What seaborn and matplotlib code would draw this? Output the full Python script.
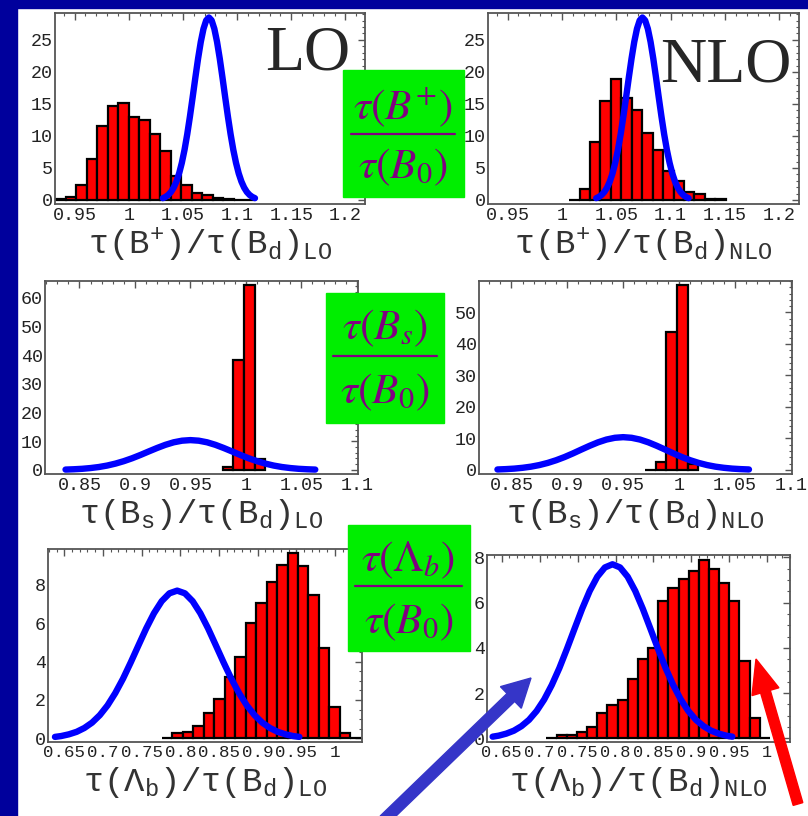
import numpy as np
import pandas as pd
import matplotlib
matplotlib.use("Agg")
import matplotlib.pyplot as plt
import matplotlib.transforms as mtransforms
from matplotlib.patches import Rectangle, FancyArrow
from matplotlib.lines import Line2D
from matplotlib.ticker import FixedLocator, MultipleLocator
import seaborn as sns

# ---------------- data ----------------
# tau(B+)/tau(Bd): histogram bins (left edge, width, heights)
bplus_lo_start = 0.932
bplus_lo_width = 0.0097
bplus_lo_heights = [0.2, 0.5, 2.3, 6.4, 11.5, 14.6, 15.1, 13.0, 12.5, 10.3,
                    7.6, 3.8, 2.3, 1.1, 0.7, 0.3, 0.1, 0.05, 0.02]
bplus_nlo_start = 1.0066
bplus_nlo_width = 0.0096
bplus_nlo_heights = [0.05, 1.7, 9.0, 15.4, 18.9, 16.0, 14.1, 10.5, 7.8, 4.5,
                     3.0, 1.3, 0.9, 0.1, 0.1]
# experimental curve (blue)
bplus_exp_x = [1.0315, 1.034, 1.0365, 1.039, 1.0415, 1.044, 1.0465, 1.049,
               1.0515, 1.054, 1.0565, 1.059, 1.0615, 1.064, 1.0665, 1.069,
               1.0715, 1.074, 1.0765, 1.079, 1.0815, 1.084, 1.0865, 1.089,
               1.0915, 1.094, 1.0965, 1.099, 1.1015, 1.104, 1.1065, 1.109,
               1.1115, 1.114, 1.1165]
bplus_exp_y = [0.28, 0.48, 0.79, 1.25, 1.93, 2.87, 4.14, 5.79, 7.83, 10.27,
               13.05, 16.05, 19.13, 22.08, 24.69, 26.74, 28.05, 28.5,
               28.05, 26.74, 24.69, 22.08, 19.13, 16.05, 13.05, 10.27, 7.83,
               5.79, 4.14, 2.87, 1.93, 1.25, 0.79, 0.48, 0.28]

# tau(Bs)/tau(Bd)
bs_lo_start = 0.979
bs_lo_width = 0.0096
bs_lo_heights = [1.2, 38.3, 64.4, 3.7]
bs_nlo_start = 0.9693
bs_nlo_width = 0.0096
bs_nlo_heights = [0.1, 2.6, 43.7, 58.8, 1.8]
bs_exp_x = [0.8375, 0.845, 0.8525, 0.86, 0.8675, 0.875, 0.8825, 0.89, 0.8975,
            0.905, 0.9125, 0.92, 0.9275, 0.935, 0.9425, 0.95, 0.9575, 0.965,
            0.9725, 0.98, 0.9875, 0.995, 1.0025, 1.01, 1.0175, 1.025, 1.0325,
            1.04, 1.0475, 1.055, 1.0625]
bs_exp_y = [0.14, 0.25, 0.41, 0.67, 1.03, 1.54, 2.22, 3.07, 4.08, 5.23, 6.46,
            7.66, 8.76, 9.64, 10.20, 10.4, 10.20, 9.64, 8.76, 7.66, 6.46,
            5.23, 4.08, 3.07, 2.22, 1.54, 1.03, 0.67, 0.41, 0.25, 0.14]

# tau(Lambda_b)/tau(Bd)
lb_lo_start = 0.7762
lb_lo_width = 0.01354
lb_lo_heights = [0.03, 0.26, 0.33, 0.64, 1.34, 2.03, 3.2, 4.22, 6.03, 7.08,
                 8.17, 9.04, 9.65, 8.99, 7.48, 4.7, 1.62, 0.26, 0.03]
lb_nlo_start = 0.709
lb_nlo_width = 0.01339
lb_nlo_heights = [0.02, 0.15, 0.15, 0.27, 0.49, 1.13, 1.47, 1.69, 2.64, 3.49,
                  3.98, 6.08, 6.63, 7.07, 7.41, 7.88, 7.47, 6.89, 6.08, 3.43,
                  0.88, 0.03]
lb_exp_x = [0.638, 0.646, 0.656, 0.666, 0.676, 0.686, 0.696, 0.706, 0.716,
            0.726, 0.736, 0.746, 0.756, 0.766, 0.776, 0.786, 0.796, 0.806,
            0.816, 0.826, 0.836, 0.846, 0.856, 0.866, 0.876, 0.886, 0.896,
            0.906, 0.916, 0.926, 0.936, 0.946, 0.954]
lb_exp_y = [0.076, 0.12, 0.21, 0.34, 0.54, 0.82, 1.21, 1.72, 2.36, 3.11,
            3.96, 4.85, 5.73, 6.52, 7.15, 7.56, 7.7, 7.56, 7.15, 6.52, 5.73,
            4.85, 3.96, 3.11, 2.36, 1.72, 1.21, 0.82, 0.54, 0.34, 0.21, 0.12,
            0.076]

# tick labels
bplus_xticks = [0.95, 1.0, 1.05, 1.1, 1.15, 1.2]
bplus_xticklabels = ["0.95", "1", "1.05", "1.1", "1.15", "1.2"]
bplus_yticks = [0, 5, 10, 15, 20, 25]
bs_xticks = [0.85, 0.9, 0.95, 1.0, 1.05, 1.1]
bs_xticklabels = ["0.85", "0.9", "0.95", "1", "1.05", "1.1"]
bs_lo_yticks = [0, 10, 20, 30, 40, 50, 60]
bs_nlo_yticks = [0, 10, 20, 30, 40, 50]
lb_xticks = [0.65, 0.7, 0.75, 0.8, 0.85, 0.9, 0.95, 1.0]
lb_xticklabels = ["0.65", "0.7", "0.75", "0.8", "0.85", "0.9", "0.95", "1"]
lb_yticks = [0, 2, 4, 6, 8]

# ---------------- style ----------------
sns.set_style("white")
plt.rcParams["font.family"] = ["Liberation Mono", "DejaVu Sans"]
plt.rcParams["mathtext.fontset"] = "custom"
plt.rcParams["mathtext.tt"] = "Liberation Mono"
plt.rcParams["mathtext.rm"] = "Liberation Mono"

W, H = 808, 816
fig = plt.figure(figsize=(W / 100, H / 100), dpi=100, facecolor="white")
px = mtransforms.Affine2D().scale(1 / W, 1 / H) + fig.transFigure


def box(l, t, r, b):
    return [l / W, 1 - b / H, (r - l) / W, (b - t) / H]


def panel(rect, start, width, heights, cx, cy, xlim, ylim, xticks, xlabels,
          yticks, xminor, yminor, label, xtick_size=13.2):
    ax = fig.add_axes(box(*rect))
    edges = [start + width * k for k in range(len(heights) + 1)]
    centers = [e + width / 2 for e in edges[:-1]]
    df = pd.DataFrame({"x": centers, "w": heights})
    sns.histplot(data=df, x="x", weights="w", bins=edges, stat="count",
                 color="#FF0000", alpha=1, edgecolor="black", linewidth=1.6,
                 ax=ax, zorder=2)
    sns.lineplot(x=cx, y=cy, color="#0000FF", lw=4.6, ax=ax, zorder=3,
                 sort=False, solid_capstyle="round", solid_joinstyle="round")
    ax.set_xlim(*xlim)
    ax.set_ylim(*ylim)
    ax.xaxis.set_major_locator(FixedLocator(xticks))
    ax.set_xticklabels(xlabels)
    ax.yaxis.set_major_locator(FixedLocator(yticks))
    ax.set_yticklabels([str(v) for v in yticks])
    ax.xaxis.set_minor_locator(MultipleLocator(xminor))
    ax.yaxis.set_minor_locator(MultipleLocator(yminor))
    ax.tick_params(which="both", direction="in", top=True, right=True,
                   color="#555555", labelcolor="#222222")
    ax.tick_params(axis="y", labelsize=13.2, pad=1.5)
    ax.tick_params(axis="x", labelsize=xtick_size, pad=2.5)
    ax.tick_params(which="major", length=5, width=1)
    ax.tick_params(which="minor", length=2.5, width=0.8)
    for s in ax.spines.values():
        s.set_color("#555555")
        s.set_linewidth(1.3)
    ax.set_ylabel("")
    ax.set_xlabel(label, fontsize=24.5, color="#333333")
    hpx = rect[3] - rect[1]
    ax.xaxis.set_label_coords(0.5, -41 / hpx)
    ax.xaxis.label.set_va("center")
    return ax


panel((55, 13, 365, 204), bplus_lo_start, bplus_lo_width, bplus_lo_heights,
      bplus_exp_x, bplus_exp_y, (0.932, 1.218), (-0.63, 29.2),
      bplus_xticks, bplus_xticklabels, bplus_yticks, 0.01, 1,
      r"$\mathtt{\tau(B^{+})/\tau(B_{d})_{LO}}$")
panel((488, 13, 799, 204), bplus_nlo_start, bplus_nlo_width, bplus_nlo_heights,
      bplus_exp_x, bplus_exp_y, (0.932, 1.218), (-0.63, 29.2),
      bplus_xticks, bplus_xticklabels, bplus_yticks, 0.01, 1,
      r"$\mathtt{\tau(B^{+})/\tau(B_{d})_{NLO}}$")
panel((45, 281, 358, 474), bs_lo_start, bs_lo_width, bs_lo_heights,
      bs_exp_x, bs_exp_y, (0.819, 1.101), (-1.4, 65.8),
      bs_xticks, bs_xticklabels, bs_lo_yticks, 0.01, 2,
      r"$\mathtt{\tau(B_{s})/\tau(B_{d})_{LO}}$")
panel((479, 281, 792, 474), bs_nlo_start, bs_nlo_width, bs_nlo_heights,
      bs_exp_x, bs_exp_y, (0.821, 1.101), (-1.3, 60),
      bs_xticks, bs_xticklabels, bs_nlo_yticks, 0.01, 2,
      r"$\mathtt{\tau(B_{s})/\tau(B_{d})_{NLO}}$")
panel((48, 549, 362, 742), lb_lo_start, lb_lo_width, lb_lo_heights,
      lb_exp_x, lb_exp_y, (0.629, 1.035), (-0.19, 9.87),
      lb_xticks, lb_xticklabels, lb_yticks, 0.01, 0.5,
      r"$\mathtt{\tau(\Lambda_{b})/\tau(B_{d})_{LO}}$", xtick_size=12.6)
panel((487, 555, 790, 742), lb_nlo_start, lb_nlo_width, lb_nlo_heights,
      lb_exp_x, lb_exp_y, (0.6306, 1.030), (-0.16, 8.11),
      lb_xticks, lb_xticklabels, lb_yticks, 0.01, 0.5,
      r"$\mathtt{\tau(\Lambda_{b})/\tau(B_{d})_{NLO}}$", xtick_size=12.2)

# navy slide border
fig.add_artist(Rectangle((0, H - 8), W, 8, transform=px, color="#00009C",
                         zorder=10))
fig.add_artist(Rectangle((0, 0), 17, H, transform=px, color="#00009C",
                         zorder=10))

# LO / NLO labels
fig.text(265 / W, 1 - 70 / H, "LO", family="Liberation Serif", fontsize=46,
         ha="left", va="baseline", zorder=12)
fig.text(660 / W, 1 - 82 / H, "NLO", family="Liberation Serif", fontsize=46,
         ha="left", va="baseline", zorder=12)

# green ratio boxes
purple = "#800080"
green = "#00EE00"
ratio_boxes = [
    ((343, 70, 464, 197), r"$\tau(B^{+})$", 107, 134, 167, (351, 455)),
    ((326, 293, 444, 423), r"$\tau(B_{s})$", 328, 356, 392, (333, 437)),
    ((348, 525, 470, 651), r"$\tau(\Lambda_{b})$", 560, 586, 622, (355, 462)),
]
for (l, t, r, b), num, ny, ly, dy, (lx0, lx1) in ratio_boxes:
    fig.add_artist(Rectangle((l, H - b), r - l, b - t, transform=px,
                             color=green, zorder=11))
    cx = (lx0 + lx1) / 2
    fig.text(cx / W, 1 - ny / H, num, math_fontfamily="stix", fontsize=31,
             color=purple, ha="center", va="center", zorder=12)
    fig.text(cx / W, 1 - dy / H, r"$\tau(B_{0})$", math_fontfamily="stix",
             fontsize=31, color=purple, ha="center", va="center", zorder=12)
    fig.add_artist(Line2D([lx0, lx1], [H - ly, H - ly], transform=px,
                          color=purple, lw=1.6, zorder=12))

# arrows
fig.add_artist(FancyArrow(384, -4, 147, 142, width=11, head_width=30,
                          head_length=28, length_includes_head=True,
                          color="#3535C8", transform=px, zorder=13))
fig.add_artist(FancyArrow(798, 12, -42, 145, width=10, head_width=28,
                          head_length=34, length_includes_head=True,
                          color="#FF0000", transform=px, zorder=13))

fig.savefig("out.png", dpi=100, facecolor="white")
